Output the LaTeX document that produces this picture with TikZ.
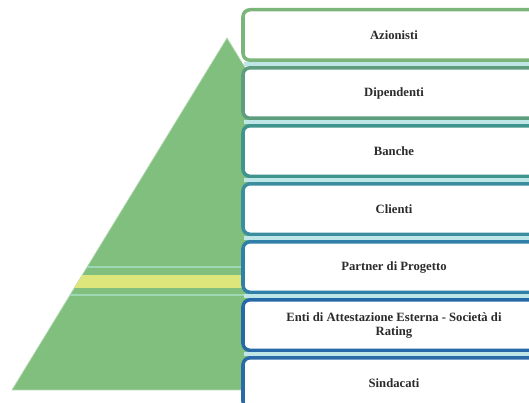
\documentclass[tikz,border=0pt]{standalone}
\usepackage{fontspec}
\setmainfont{Liberation Serif}
\usepackage{xcolor}
\definecolor{pyramidGreen}{HTML}{80BF7E}
\definecolor{bandYellow}{HTML}{DDE67A}
\definecolor{bandTeal}{HTML}{9CD8B4}
\definecolor{gapCyan}{HTML}{BFE6E6}
\definecolor{tierOne}{HTML}{7BB57A}
\definecolor{tierTwo}{HTML}{5E9E7E}
\definecolor{tierThree}{HTML}{3F958D}
\definecolor{tierFour}{HTML}{3A8E9F}
\definecolor{tierFive}{HTML}{2F7FA8}
\definecolor{tierSix}{HTML}{2769A6}
\definecolor{tierSeven}{HTML}{2A6AA8}
\definecolor{darkText}{HTML}{2B2B2B}
\usepackage{tikz}
\usetikzlibrary{
    positioning,
    calc
}
\tikzset{
    % Stakeholder boxes on the right
    tier/.style={
        rectangle,
        rounded corners=4pt,
        draw=#1,
        line width=2pt,
        fill=white,
        minimum width=6.04cm,
        minimum height=1.01cm,
        font=\bfseries\fontsize{7.2}{8}\selectfont,
        text=darkText,
        align=center,
        inner sep=1pt,
    },
    % Light stripe between two boxes
    gap line/.style={
        draw=gapCyan,
        line width=0.08cm,
    },
}

\begin{document}
\begin{tikzpicture}[node distance=0.08cm]
    \useasboundingbox (0,0) rectangle (10.58,8.06);
    \clip (0,0) rectangle (10.58,8.06);

    % pyramid behind the boxes
    \fill[pyramidGreen, draw=pyramidGreen!60!white, line width=0.4pt]
        (4.54,7.30) -- (0.24,0.26) -- (8.84,0.26) -- cycle;
    \begin{scope}
        \clip (4.54,7.30) -- (0.24,0.26) -- (8.84,0.26) -- cycle;
        \fill[bandYellow] (0,2.30) rectangle (9,2.56);
        \draw[bandTeal, line width=1pt] (0,2.72) -- (9,2.72);
        \draw[bandTeal, line width=1pt] (0,2.16) -- (9,2.16);
    \end{scope}

    % boxes
    \node (azionisti) [tier=tierOne] at (7.88,7.36) {Azionisti};
    \node (dipendenti) [tier=tierTwo, below=of azionisti] {Dipendenti};
    \node (banche) [tier=tierThree, below=of dipendenti] {Banche};
    \node (clienti) [tier=tierFour, below=of banche] {Clienti};
    \node (partner) [tier=tierFive, below=of clienti] {Partner di Progetto};
    \node (enti) [tier=tierSix, below=of partner] {Enti di Attestazione Esterna - Società di\\Rating};
    \node (sindacati) [tier=tierSeven, below=of enti] {Sindacati};

    % stripes in the gaps
    \draw[gap line] ($(azionisti.south west)!0.5!(dipendenti.north west)$) ++(0.05,0) -- ++(6,0);
    \draw[gap line] ($(dipendenti.south west)!0.5!(banche.north west)$) ++(0.05,0) -- ++(6,0);
    \draw[gap line] ($(banche.south west)!0.5!(clienti.north west)$) ++(0.05,0) -- ++(6,0);
    \draw[gap line] ($(clienti.south west)!0.5!(partner.north west)$) ++(0.05,0) -- ++(6,0);
    \draw[gap line] ($(partner.south west)!0.5!(enti.north west)$) ++(0.05,0) -- ++(6,0);
    \draw[gap line] ($(enti.south west)!0.5!(sindacati.north west)$) ++(0.05,0) -- ++(6,0);
\end{tikzpicture}
\end{document}
